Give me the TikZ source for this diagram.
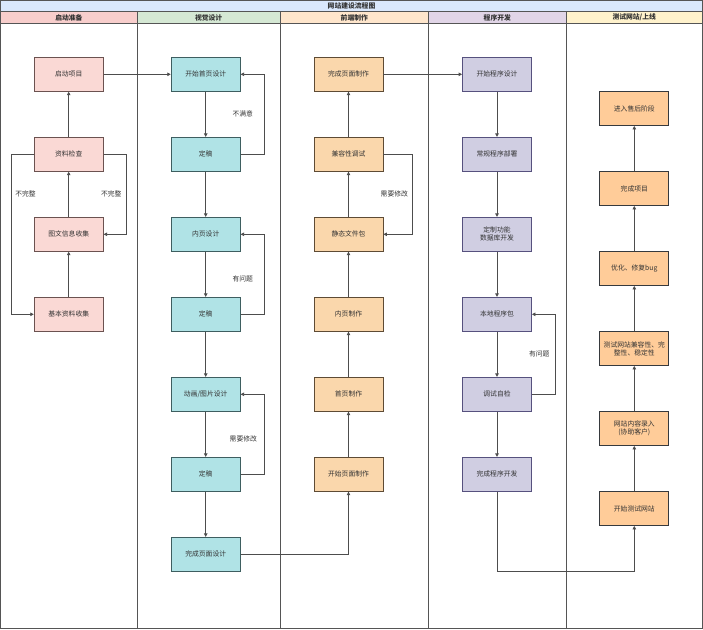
\documentclass[tikz,border=0pt]{standalone}
\usepackage{fontspec}
\setmainfont{Noto Sans CJK SC}
\usetikzlibrary{arrows.meta}
\definecolor{titlebg}{HTML}{DAE8FC}
\definecolor{hdA}{HTML}{F8CECC}
\definecolor{hdB}{HTML}{D5E8D4}
\definecolor{hdC}{HTML}{FFE6CC}
\definecolor{hdD}{HTML}{E1D5E7}
\definecolor{hdE}{HTML}{FFF2CC}
\definecolor{fillA}{HTML}{FAD9D5}
\definecolor{fillB}{HTML}{B0E3E6}
\definecolor{fillC}{HTML}{FAD7AC}
\definecolor{fillD}{HTML}{D0CEE2}
\definecolor{fillE}{HTML}{FFCC99}
\definecolor{edgeA}{HTML}{6B5250}
\definecolor{edgeB}{HTML}{3E5E60}
\definecolor{edgeC}{HTML}{5E4B35}
\definecolor{edgeD}{HTML}{56517E}
\definecolor{edgeE}{HTML}{36393D}
\definecolor{linegray}{HTML}{4D4D4D}
\definecolor{framegray}{HTML}{555555}
\begin{document}
\begin{tikzpicture}[x=1pt,y=-1pt,
  every node/.style={font=\fontsize{6.8}{8}\selectfont, text=black!80},
  card/.style={draw=#1, line width=0.8pt, minimum width=69pt, minimum height=34pt, inner sep=1pt, align=center},
  cardA/.style={card=edgeA, fill=fillA},
  cardB/.style={card=edgeB, fill=fillB},
  cardC/.style={card=edgeC, fill=fillC},
  cardD/.style={card=edgeD, fill=fillD},
  cardE/.style={card=edgeE, fill=fillE},
  lanerule/.style={draw=framegray, line width=0.8pt},
  conn/.style={draw=linegray, line width=0.8pt, -{Triangle[length=3.5pt,width=3.5pt]}},
  lbl/.style={fill=white, inner sep=1pt},
  hdr/.style={font=\fontsize{6.8}{8}\selectfont\bfseries}
]
\useasboundingbox (0,0) rectangle (703,629);
% lanes
\fill[titlebg] (0.5,0.5) rectangle (702.5,11.7);
\fill[hdA] (0.5,11.7) rectangle (137.3,23.3);
\fill[hdB] (137.3,11.7) rectangle (280,23.3);
\fill[hdC] (280,11.7) rectangle (428.7,23.3);
\fill[hdD] (428.7,11.7) rectangle (566,23.3);
\fill[hdE] (566,11.7) rectangle (702.5,23.3);
\draw[lanerule] (0.5,0.5) rectangle (702.5,628.5);
\draw[lanerule] (0.5,11.7) -- (702.5,11.7);
\draw[lanerule] (0.5,23.3) -- (702.5,23.3);
\draw[lanerule] (137.3,11.7) -- (137.3,628.5);
\draw[lanerule] (280,11.7) -- (280,628.5);
\draw[lanerule] (428.7,11.7) -- (428.7,628.5);
\draw[lanerule] (566,11.7) -- (566,628.5);
\node[hdr] (title) at (351.5,6.1) {网站建设流程图};
\node[hdr] (hA) at (68.9,17.5) {启动准备};
\node[hdr] (hB) at (208.6,17.5) {视觉设计};
\node[hdr] (hC) at (354.3,17.5) {前端制作};
\node[hdr] (hD) at (497.3,17.5) {程序开发};
\node[hdr] (hE) at (634.2,17.5) {测试网站/上线};

% column 1
\node[cardA] (a1) at (68.7,74.3) {启动项目};
\node[cardA] (a2) at (68.7,154.3) {资料检查};
\node[cardA] (a3) at (68.7,234.3) {图文信息收集};
\node[cardA] (a4) at (68.7,314.3) {基本资料收集};
% column 2
\node[cardB] (b1) at (205.7,74.3) {开始首页设计};
\node[cardB] (b2) at (205.7,154.3) {定稿};
\node[cardB] (b3) at (205.7,234.3) {内页设计};
\node[cardB] (b4) at (205.7,314.3) {定稿};
\node[cardB] (b5) at (205.7,394.3) {动画/图片设计};
\node[cardB] (b6) at (205.7,474.3) {定稿};
\node[cardB] (b7) at (205.7,554.3) {完成页面设计};
% column 3
\node[cardC] (c1) at (348.5,74.3) {完成页面制作};
\node[cardC] (c2) at (348.5,154.3) {兼容性调试};
\node[cardC] (c3) at (348.5,234.3) {静态文件包};
\node[cardC] (c4) at (348.5,314.3) {内页制作};
\node[cardC] (c5) at (348.5,394.3) {首页制作};
\node[cardC] (c6) at (348.5,474.3) {开始页面制作};
% column 4
\node[cardD] (d1) at (497,74.3) {开始程序设计};
\node[cardD] (d2) at (497,154.3) {常规程序部署};
\node[cardD] (d3) at (497,234.3) {定制功能\\数据库开发};
\node[cardD] (d4) at (497,314.3) {本地程序包};
\node[cardD] (d5) at (497,394.3) {调试自检};
\node[cardD] (d6) at (497,474.3) {完成程序开发};
% column 5
\node[cardE] (e1) at (634.3,108.5) {进入售后阶段};
\node[cardE] (e2) at (634.3,188.5) {完成项目};
\node[cardE] (e3) at (634.3,268.5) {优化、修复bug};
\node[cardE] (e4) at (634.3,348.5) {测试网站兼容性、完\\整性、稳定性};
\node[cardE] (e5) at (634.3,428.5) {网站内容录入\\(协助客户)};
\node[cardE] (e6) at (634.3,508.5) {开始测试网站};

\coordinate (lowrun) at (566,571);

% column 1 connectors
\draw[conn] (a4) -- (a3);
\draw[conn] (a3) -- (a2);
\draw[conn] (a2) -- (a1);
\draw[conn] (a2.west) -- ++(-22.6,0) |- (a4.west);
\draw[conn] (a2.east) -- ++(23,0) |- (a3.east);
\draw[conn] (a1) -- (b1);
\node (l1) at (25.5,194) {不完整};
\node (l2) at (111.3,194) {不完整};
% column 2 connectors
\draw[conn] (b1) -- (b2);
\draw[conn] (b2.east) -- ++(23.3,0) |- (b1.east);
\draw[conn] (b2) -- (b3);
\draw[conn] (b3) -- (b4);
\draw[conn] (b4.east) -- ++(23.3,0) |- (b3.east);
\draw[conn] (b4) -- (b5);
\draw[conn] (b5) -- (b6);
\draw[conn] (b6.east) -- ++(23.3,0) |- (b5.east);
\draw[conn] (b6) -- (b7);
\draw[conn] (b7.east) -| (c6.south);
\node (l3) at (242.7,114.3) {不满意};
\node (l4) at (242.7,279.3) {有问题};
\node (l5) at (243.3,439.3) {需要修改};
% column 3 connectors
\draw[conn] (c6) -- (c5);
\draw[conn] (c5) -- (c4);
\draw[conn] (c4) -- (c3);
\draw[conn] (c3) -- (c2);
\draw[conn] (c2.east) -- ++(29,0) |- (c3.east);
\draw[conn] (c2) -- (c1);
\draw[conn] (c1) -- (d1);
\node (l6) at (394.3,194) {需要修改};
% column 4 connectors
\draw[conn] (d1) -- (d2);
\draw[conn] (d2) -- (d3);
\draw[conn] (d3) -- (d4);
\draw[conn] (d4) -- (d5);
\draw[conn] (d5.east) -- ++(23,0) |- (d4.east);
\draw[conn] (d5) -- (d6);
\draw[conn] (d6.south) |- (lowrun) -| (e6.south);
\node (l7) at (539.3,354) {有问题};
% column 5 connectors
\draw[conn] (e6) -- (e5);
\draw[conn] (e5) -- (e4);
\draw[conn] (e4) -- (e3);
\draw[conn] (e3) -- (e2);
\draw[conn] (e2) -- (e1);
\end{tikzpicture}
\end{document}
